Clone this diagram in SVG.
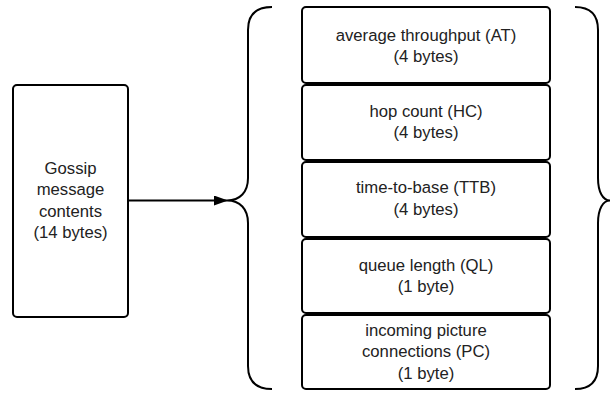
<svg xmlns="http://www.w3.org/2000/svg" width="611" height="394" viewBox="0 0 611 394">
<style>
.box{fill:#fff;stroke:#000;stroke-width:2}
.t{font-family:"Liberation Sans",Arial,sans-serif;font-size:16.7px;fill:#222;text-anchor:middle}
.c{fill:none;stroke:#000;stroke-width:2}
</style>
<defs>
<marker id="ah" markerWidth="14" markerHeight="10" refX="13" refY="5" orient="auto" markerUnits="userSpaceOnUse">
<path d="M0,0 L14,5 L0,10 Z" fill="#000"/>
</marker>
</defs>
<rect width="611" height="394" fill="#fff"/>
<g id="gossip">
<rect class="box" x="13" y="85" width="115" height="232" rx="4"/>
<text class="t" x="70.5" y="173.5">Gossip</text>
<text class="t" x="70.5" y="195">message</text>
<text class="t" x="70.5" y="216.5">contents</text>
<text class="t" x="70.5" y="238">(14 bytes)</text>
</g>
<g id="at">
<rect class="box" x="302" y="7" width="248" height="76" rx="4"/>
<text class="t" x="426" y="41">average throughput (AT)</text>
<text class="t" x="426" y="62">(4 bytes)</text>
</g>
<g id="hc">
<rect class="box" x="302" y="85" width="248" height="75" rx="4"/>
<text class="t" x="426" y="117">hop count (HC)</text>
<text class="t" x="426" y="138">(4 bytes)</text>
</g>
<g id="ttb">
<rect class="box" x="302" y="162" width="248" height="75" rx="4"/>
<text class="t" x="426" y="193">time-to-base (TTB)</text>
<text class="t" x="426" y="215">(4 bytes)</text>
</g>
<g id="ql">
<rect class="box" x="302" y="239" width="248" height="74" rx="4"/>
<text class="t" x="426" y="271">queue length (QL)</text>
<text class="t" x="426" y="292">(1 byte)</text>
</g>
<g id="pc">
<rect class="box" x="302" y="315" width="248" height="74" rx="4"/>
<text class="t" x="426" y="335.5">incoming picture</text>
<text class="t" x="426" y="357">connections (PC)</text>
<text class="t" x="426" y="378.5">(1 byte)</text>
</g>
<g id="connectors">
<path class="c" d="M128,200.5 L227,200.5" marker-end="url(#ah)"/>
<path class="c" d="M272,7 C256,7 248,15 248,30 L248,178 C248,192 240,200.5 227,200.5 C240,200.5 248,209 248,223 L248,366 C248,381 256,389 272,389"/>
<path class="c" d="M575,7 C590,7 598,15 598,30 L598,178 C598,192 603,200.5 610,200.5 C603,200.5 598,209 598,223 L598,366 C598,381 590,389 575,389"/>
</g>
</svg>
